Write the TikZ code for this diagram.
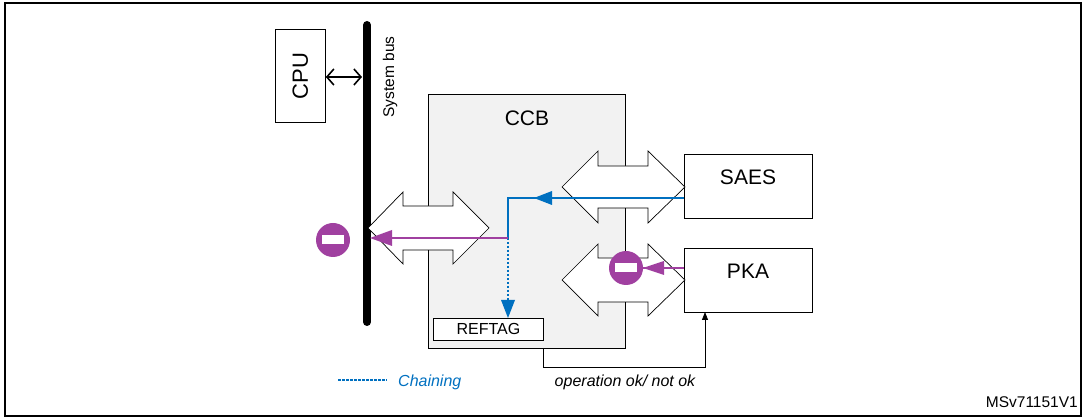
\documentclass[tikz,border=0pt]{standalone}
\usepackage{fontspec}
\setmainfont{Liberation Sans}
\usetikzlibrary{arrows.meta}
\definecolor{mag}{RGB}{160,64,160}
\definecolor{chain}{RGB}{0,112,192}
\definecolor{ccbfill}{RGB}{242,242,242}
\newcommand\hollowdbl[6]{% x1 n1 n2 x2 cy shafthalf
  \draw[fill=white,line width=0.7pt] (#1,#5) -- (#2,#5-36) -- (#2,#5-#6) -- (#3,#5-#6) -- (#3,#5-36) -- (#4,#5)
   -- (#3,#5+36) -- (#3,#5+#6) -- (#2,#5+#6) -- (#2,#5+36) -- cycle;}
\begin{document}
\begin{tikzpicture}[x=1pt,y=-1pt,
  box/.style={draw,line width=0.8pt,fill=white,inner sep=0pt,anchor=north west},
  lbl/.style={inner sep=0pt,font=\fontsize{21}{21}\selectfont},
  small/.style={inner sep=0pt,font=\fontsize{15.5}{15.5}\selectfont},
  chaindash/.style={chain,line width=1.2pt,dash pattern=on 2.5pt off 1.5pt},
  noentry/.style={circle,fill=mag,minimum size=34pt,inner sep=0pt,
    path picture={\fill[white] ([xshift=-11pt,yshift=-4.5pt]path picture bounding box.center) rectangle ([xshift=11pt,yshift=4.5pt]path picture bounding box.center);}}]
\useasboundingbox (0,0) rectangle (1085,419);
\draw[line width=1.2pt] (5,3) rectangle (1081,416);
% CCB
\node[box,fill=ccbfill,minimum width=197pt,minimum height=254pt] (ccb) at (428,94) {};
\node[lbl] (ccbt) at (527,118) {CCB};
\node[box,minimum width=110pt,minimum height=22pt] (reftag) at (433,318) {};
\node[small,font=\fontsize{16}{16}\selectfont] at (reftag.center) {REFTAG};
% CPU
\node[box,minimum width=50pt,minimum height=93pt] (cpu) at (275,29) {};
\node[lbl,rotate=90,font=\fontsize{22}{22}\selectfont] at (cpu.center) {CPU};
% bus
\coordinate (bt) at (367,25); \coordinate (bb) at (367,322);
\draw[line width=8pt,line cap=round] (bt) -- (bb);
\node[small,rotate=90] (busl) at (390,77) {System bus};
\draw[{Straight Barb[length=7pt,width=16pt]}-{Straight Barb[length=7pt,width=16pt]},line width=1.6pt] (cpu.east|-0,77) -- (362,77);
% SAES PKA
\node[box,minimum width=128pt,minimum height=64pt] (saes) at (684,154) {};
\node[lbl] (saest) at (748,177) {SAES};
\node[box,minimum width=128pt,minimum height=64pt] (pka) at (684,248) {};
\node[lbl] (pkat) at (748,271) {PKA};
% hollow arrows
\hollowdbl{368}{403}{453}{489}{228}{22}
\hollowdbl{562}{598}{648}{685}{187}{21}
\hollowdbl{562}{598}{648}{685}{280}{22}
% blue chaining
\coordinate (jn) at (508,198);
\coordinate (jm) at (508,238);
\draw[chain,line width=1.2pt] (saes.west|-0,198) -- (jn) -- (jm);
\fill[chain] (534,198) -- (552,191) -- (552,205) -- cycle;
\draw[chaindash] (jm) -- (508,305);
\fill[chain] (508,318) -- (501,300) -- (515,300) -- cycle;
% magenta
\draw[mag,line width=1.2pt] (jm) -- (372,238);
\fill[mag] (370,238) -- (392,230) -- (392,246) -- cycle;
\node[noentry] (ne1) at (333,240) {};
\node[noentry] (ne2) at (626,268) {};
\draw[mag,line width=1.2pt] (pka.west|-0,268) -- (ne2.east);
\fill[mag] (643,268) -- (664,261) -- (664,275) -- cycle;
% feedback
\draw[line width=0.8pt,-{Triangle[length=8pt,width=6pt]}] (543,348) -- (543,367) -- (705,367) -- (705,312);
\node[small,font=\itshape\fontsize{16}{16}\selectfont] (op) at (625,382) {operation ok/ not ok};
% legend
\coordinate (la) at (338,380); \coordinate (lb) at (387,380);
\draw[chaindash] (la) -- (lb);
\node[small,anchor=west,text=chain,font=\itshape\fontsize{16}{16}\selectfont] (chl) at (398,382) {Chaining};
\node[small,anchor=east] (ms) at (1078,402) {MSv71151V1};
\end{tikzpicture}
\end{document}
